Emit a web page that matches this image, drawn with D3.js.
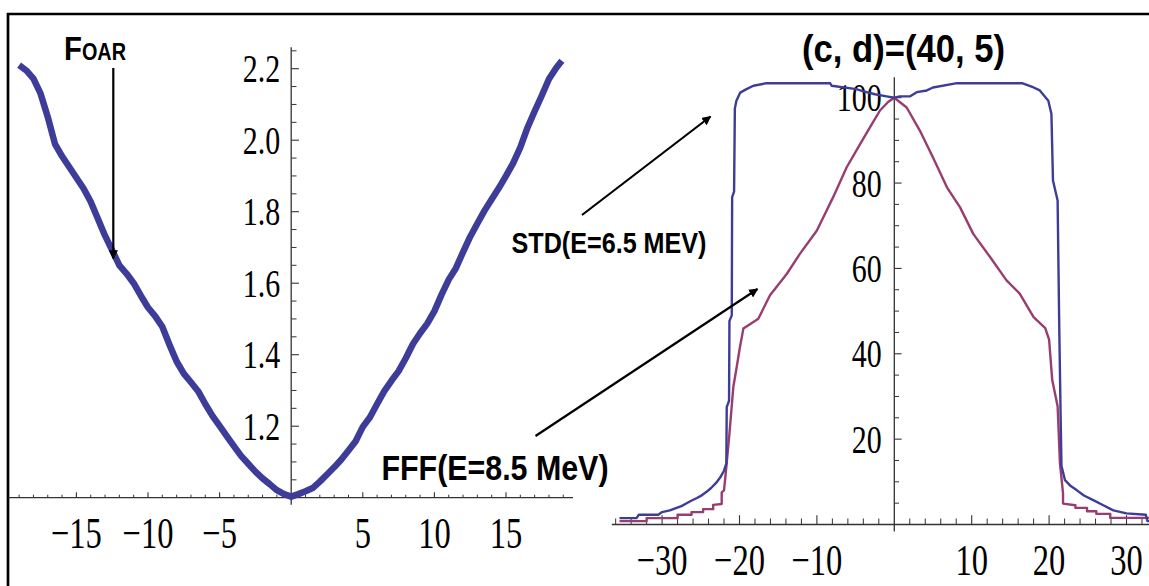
<!DOCTYPE html>
<html><head><meta charset="utf-8">
<script src="https://cdn.jsdelivr.net/npm/d3@7"></script>
<style>
html,body{margin:0;padding:0;background:#fff;overflow:hidden}
svg{display:block}
</style></head>
<body>
<svg id="chart" width="1149" height="586"></svg>
<script>
// ---------- DATA ----------
// Left panel: F_OAR profile
const foarX = [-19,-18.5,-18,-17.5,-17,-16.5,-16,-15.5,-15,-14.5,-14,-13.5,-13,-12.5,-12,-11.5,-11,-10.5,-10,-9.5,-9,-8.5,-8,-7.5,-7,-6.5,-6,-5.5,-5,-4.5,-4,-3.5,-3,-2.5,-2,-1.5,-1,-0.5,0,0.5,1,1.5,2,2.5,3,3.5,4,4.5,5,5.5,6,6.5,7,7.5,8,8.5,9,9.5,10,10.5,11,11.5,12,12.5,13,13.5,14,14.5,15,15.5,16,16.5,17,17.5,18,18.5,18.9];
const foarY = [2.21,2.195,2.172,2.13,2.065,1.99,1.955,1.925,1.895,1.865,1.828,1.78,1.733,1.692,1.65,1.627,1.60,1.565,1.532,1.508,1.478,1.428,1.381,1.347,1.323,1.298,1.262,1.229,1.201,1.172,1.144,1.117,1.095,1.073,1.054,1.038,1.021,1.01,1.003,1.01,1.018,1.027,1.045,1.065,1.085,1.107,1.132,1.158,1.198,1.225,1.262,1.298,1.327,1.354,1.39,1.43,1.46,1.487,1.522,1.568,1.61,1.642,1.687,1.73,1.767,1.803,1.835,1.866,1.9,1.936,1.98,2.035,2.081,2.125,2.171,2.202,2.222];
const leftXTicks = [-15,-10,-5,5,10,15];
const leftXTickLabels = ["\u221215","\u221210","\u22125","5","10","15"];
const leftYTicks = [1.2,1.4,1.6,1.8,2.0,2.2];
const leftYTickLabels = ["1.2","1.4","1.6","1.8","2.0","2.2"];

// Right panel: STD and FFF profiles
const stdX = [-35.5,-33.3,-33.0,-30.5,-30.0,-29.0,-28.3,-27.5,-27.0,-26.3,-25.5,-25.0,-24.3,-23.7,-23.0,-22.5,-22.0,-21.7,-21.65,-21.35,-21.3,-21.0,-20.95,-20.7,-20.6,-20.4,-19.9,-19.1,-18.2,-16.5,-8.3,-8.1,-4.9,-4.0,-2.5,-1.0,0,0.7,2.0,2.9,4.2,5.0,8.1,16.5,18.0,18.8,19.9,20.3,20.5,21.1,21.3,21.5,21.6,22.05,22.8,23.6,24.5,25.7,27.0,28.3,30.0,32.5,32.7,33.5];
const stdY = [1.5,1.5,2.3,2.3,2.9,3.3,3.8,4.3,4.8,5.5,6.2,6.7,7.6,8.5,9.8,11.0,12.6,14.3,27.5,29.0,47.7,49.0,76.7,78.0,97.5,99.3,101.2,102.0,102.8,103.4,103.4,102.8,102.0,101.5,100.8,100.3,100.0,100.3,100.3,101.3,101.7,102.4,103.4,103.4,102.4,101.7,99.3,96.2,80.6,75.9,47.8,24.0,13.7,10.4,9.0,8.0,6.8,5.7,4.5,3.3,2.6,2.3,0.8,0.8];
const fffX = [-35.5,-32.0,-32.0,-28.0,-28.0,-26.2,-26.2,-24.7,-24.7,-23.4,-23.4,-22.3,-22.3,-22.0,-21.7,-21.3,-20.8,-20.36,-19.94,-19.5,-18.6,-17.57,-16.06,-13.9,-12.2,-10.0,-7.9,-6.15,-4.4,-2.9,-1.85,-0.8,0,1.6,3.3,5.0,6.8,8.5,10.2,12.4,14.5,16.2,18.0,19.5,20.0,20.4,21.1,21.4,21.8,21.8,23.4,23.4,24.9,24.9,26.1,26.1,27.9,27.9,33.5];
const fffY = [0.8,0.8,1.5,1.5,2.3,2.3,2.9,2.9,3.6,3.6,4.6,4.8,7.5,8.0,13.5,21.3,32.2,36.9,41.6,45.9,47.0,48.2,53.7,58.7,63.4,68.9,76.7,83.7,89.2,93.8,97.0,99.0,100,97.7,92.3,86.0,79.0,74.3,68.1,62.6,57.2,54.1,48.6,46.0,43.3,33.9,27.7,14.4,7.3,4.9,4.5,3.9,3.9,3.1,3.1,2.5,2.5,1.55,1.55];
const rightXTicks = [-30,-20,-10,10,20,30];
const rightXTickLabels = ["\u221230","\u221220","\u221210","10","20","30"];
const rightYTicks = [20,40,60,80,100];
const rightYTickLabels = ["20","40","60","80","100"];

const titleText = "(c, d)=(40, 5)";
const stdLabel = "STD(E=6.5 MEV)";
const fffLabel = "FFF(E=8.5 MeV)";

// ---------- DRAW ----------
const svg = d3.select("#chart");
const BLUE = "#3d3d99", MAG = "#993d71", AX = "#333";
const SERIF = "'Liberation Serif','Times New Roman',serif";
const SANS = "'Liberation Sans',Arial,sans-serif";
const SX = 0.74;

svg.append("defs").append("marker")
  .attr("id","ah").attr("viewBox","0 0 10 10").attr("refX",9).attr("refY",5)
  .attr("markerWidth",4.2).attr("markerHeight",4.2).attr("orient","auto")
  .append("path").attr("d","M0,0 L10,5 L0,10 z").attr("fill","#000");

// frame
svg.append("line").attr("x1",7).attr("x2",1149).attr("y1",14).attr("y2",14).attr("stroke","#000").attr("stroke-width",2.7);
svg.append("line").attr("x1",8).attr("x2",8).attr("y1",13).attr("y2",586).attr("stroke","#000").attr("stroke-width",2.7);

function panel(opt){
  const g = svg.append("g");
  const x = opt.x, y = opt.y;
  const x0 = x(0), y0 = y(opt.yBase);
  g.selectAll(".mx").data(opt.xMinor).join("line")
    .attr("x1",d=>x(d)).attr("x2",d=>x(d)).attr("y1",y0).attr("y2",y0-opt.xMinLen)
    .attr("stroke",AX).attr("stroke-width",1);
  g.selectAll(".Mx").data(opt.xMajor).join("line")
    .attr("x1",d=>x(d)).attr("x2",d=>x(d)).attr("y1",y0).attr("y2",y0-opt.xMajLen)
    .attr("stroke",AX).attr("stroke-width",1.1);
  g.selectAll(".my").data(opt.yMinor).join("line")
    .attr("x1",x0).attr("x2",x0+opt.yMinLen).attr("y1",d=>y(d)).attr("y2",d=>y(d))
    .attr("stroke",AX).attr("stroke-width",1);
  g.selectAll(".My").data(opt.yMajor).join("line")
    .attr("x1",x0).attr("x2",x0+opt.yMajLen).attr("y1",d=>y(d)).attr("y2",d=>y(d))
    .attr("stroke",AX).attr("stroke-width",1.1);
  g.append("line").attr("x1",x.range()[0]).attr("x2",x.range()[1]).attr("y1",y0).attr("y2",y0)
    .attr("stroke",AX).attr("stroke-width",1.3);
  g.append("line").attr("x1",x0).attr("x2",x0).attr("y1",y(opt.yTop)).attr("y2",y0+7)
    .attr("stroke",AX).attr("stroke-width",1.3);
  g.selectAll(".lx").data(opt.xMajor).join("text")
    .attr("transform",d=>`translate(${x(d)},${y0+opt.xLabOff}) scale(${SX},1)`)
    .attr("text-anchor","middle").attr("font-family",SERIF).attr("font-size",opt.xFs)
    .attr("fill","#000").text((d,i)=>opt.xLabels[i]);
  g.selectAll(".ly").data(opt.yMajor).join("text")
    .attr("transform",d=>`translate(${x0-opt.yGap},${y(d)+0.335*opt.yFs}) scale(${SX},1)`)
    .attr("text-anchor","end").attr("font-family",SERIF).attr("font-size",opt.yFs)
    .attr("fill","#000").text((d,i)=>opt.yLabels[i]);
  return g;
}

// Left panel
const xL = d3.scaleLinear().domain([-19.75,19.68]).range([291.2-19.75*14.32, 291.2+19.68*14.32]);
const yL = d3.scaleLinear().domain([1.0,2.2]).range([497.7,68.7]);
const leftMinorX = [-19,-18,-17,-16,-14,-13,-12,-11,-9,-8,-7,-6,-4,-3,-2,-1,1,2,3,4,6,7,8,9,11,12,13,14,16,17,18,19];
const leftMinorY = [1.05,1.1,1.15,1.25,1.3,1.35,1.45,1.5,1.55,1.65,1.7,1.75,1.85,1.9,1.95,2.05,2.1,2.15,2.25];
panel({x:xL,y:yL,yBase:1.0,yTop:2.26,xMinor:leftMinorX,xMajor:leftXTicks,xLabels:leftXTickLabels,
  yMinor:leftMinorY,yMajor:leftYTicks,yLabels:leftYTickLabels,
  xMinLen:3,xMajLen:5.5,yMinLen:5.3,yMajLen:7.7,xLabOff:50.5,xFs:44,yFs:40.5,yGap:11});

svg.append("path")
  .attr("d", d3.line().x(d=>xL(foarX[d])).y(d=>yL(foarY[d])).curve(d3.curveLinear)(d3.range(foarX.length)))
  .attr("fill","none").attr("stroke",BLUE).attr("stroke-width",6.5)
  .attr("stroke-linejoin","round").attr("stroke-linecap","butt");

// Right panel
const xR = d3.scaleLinear().domain([-36.5,33.2]).range([894.3-36.5*7.74, 894.3+33.2*7.74]);
const yR = d3.scaleLinear().domain([0,100]).range([524.5,97.7]);
const rightMinorX = [-36,-34,-32,-28,-26,-24,-22,-18,-16,-14,-12,-8,-6,-4,-2,2,4,6,8,12,14,16,18,22,24,26,28,32];
const rightMinorY = [5,10,15,25,30,35,45,50,55,65,70,75,85,90,95];
panel({x:xR,y:yR,yBase:0,yTop:104.8,xMinor:rightMinorX,xMajor:rightXTicks,xLabels:rightXTickLabels,
  yMinor:rightMinorY,yMajor:rightYTicks,yLabels:rightYTickLabels,
  xMinLen:6,xMajLen:9.3,yMinLen:4.7,yMajLen:7.3,xLabOff:50.5,xFs:44,yFs:40.5,yGap:12.5});

const lineR = (xs,ys)=>d3.line().x(d=>xR(xs[d])).y(d=>yR(ys[d]))(d3.range(xs.length));
svg.append("path").attr("d",lineR(fffX,fffY)).attr("fill","none").attr("stroke",MAG).attr("stroke-width",2.4).attr("stroke-linejoin","round");
svg.append("path").attr("d",lineR(stdX,stdY)).attr("fill","none").attr("stroke",BLUE).attr("stroke-width",2.4).attr("stroke-linejoin","round");

// Title
svg.append("text").attr("x",802).attr("y",61.5).attr("font-family",SANS).attr("font-weight","bold")
  .attr("font-size",38).attr("textLength",203).attr("lengthAdjust","spacingAndGlyphs").text(titleText);

// Annotations
svg.append("text").attr("x",511.5).attr("y",253.3).attr("font-family",SANS).attr("font-weight","bold")
  .attr("font-size",30).attr("textLength",195).attr("lengthAdjust","spacingAndGlyphs").text(stdLabel);
svg.append("text").attr("x",381.5).attr("y",480).attr("font-family",SANS).attr("font-weight","bold")
  .attr("font-size",34.5).attr("textLength",227).attr("lengthAdjust","spacingAndGlyphs").text(fffLabel);
const foar = svg.append("text").attr("x",64).attr("y",59.5).attr("font-family",SANS).attr("font-weight","bold");
foar.append("tspan").attr("font-size",34).text("F");
foar.append("tspan").attr("font-size",23).text("OAR");
foar.attr("textLength",62).attr("lengthAdjust","spacingAndGlyphs");
</script>
<script>
const arrows = [[113.3,68,113.3,258.5],[582,215,710.5,116.5],[535.5,436,757.5,289]];
d3.select("#chart").selectAll(".arr").data(arrows).join("line")
  .attr("x1",d=>d[0]).attr("y1",d=>d[1]).attr("x2",d=>d[2]).attr("y2",d=>d[3])
  .attr("stroke","#000").attr("stroke-width",2.2).attr("marker-end","url(#ah)");
</script>
</body></html>
